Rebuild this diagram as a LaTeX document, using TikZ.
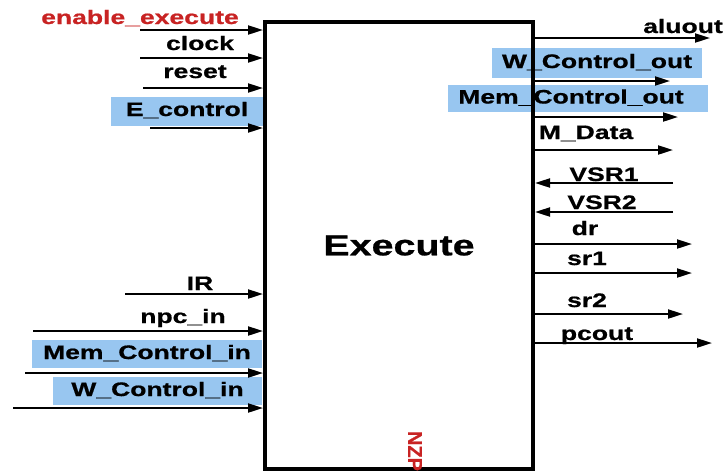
\documentclass[tikz,border=0pt]{standalone}
\usepackage{fontspec}
\usetikzlibrary{arrows.meta}
% Arial-metric sans, widened and slightly emboldened for the signal labels
\newfontfamily\labfont[FakeStretch=1.36,FakeBold=0.8]{Liberation Sans}
\newfontfamily\plainfont[FakeBold=0.8]{Liberation Sans}
\definecolor{sigblue}{RGB}{152,198,240}
\definecolor{sigred}{RGB}{200,35,35}
\begin{document}
\begin{tikzpicture}[x=1pt,y=-1pt,
  lbl/.style={font=\labfont\bfseries\fontsize{19.5}{22}\selectfont,
    inner sep=0pt, text height=14pt, text depth=4pt},
  bluelbl/.style={lbl, fill=sigblue, inner sep=0pt},
  bluebg/.style={fill=sigblue, inner sep=0pt},
  sig/.style={line width=2pt, -{Triangle[length=15pt,width=9pt]}},
  unit/.style={draw, line width=4pt, inner sep=0pt,
    minimum width=268pt, minimum height=447pt,
    font=\labfont\bfseries\fontsize{29}{32}\selectfont},
]
\useasboundingbox (0,0) rectangle (727,472);

% highlighted control buses (drawn first, the unit outline goes on top)
\node[bluelbl, minimum width=153pt, minimum height=29pt] (ectl) at (187,111) {E\_control};
\node[bluelbl, minimum width=230pt, minimum height=28pt] (memin) at (147,354) {Mem\_Control\_in};
\node[bluelbl, minimum width=209pt, minimum height=28pt] (win) at (157.5,391) {W\_Control\_in};
\node[bluelbl, minimum width=210pt, minimum height=30pt] (wout) at (597,63) {W\_Control\_out};
\node[bluebg, minimum width=260pt, minimum height=27pt] (memoutbg) at (578,98.5) {};
\node[lbl] (memout) at (571,98.5) {Mem\_Control\_out};

% the execute stage
\node[unit] (exec) at (399,245.5) {Execute};
\node[font=\plainfont\bfseries\fontsize{20}{22}\selectfont, text=sigred,
  rotate=-90, inner sep=0pt] (nzp) at (415,451) {NZP};

% input labels
\node[lbl, text=sigred] (en) at (140,19) {enable\_execute};
\node[lbl] (clk) at (200,45) {clock};
\node[lbl] (rst) at (195,73) {reset};
\node[lbl] (ir) at (200,285) {IR};
\node[lbl] (npc) at (183,318) {npc\_in};

% output labels
\node[lbl] (alu) at (683,28) {aluout};
\node[lbl] (mdata) at (586,134) {M\_Data};
\node[lbl] (vsra) at (604,176) {VSR1};
\node[lbl] (vsrb) at (602,204) {VSR2};
\node[lbl] (dr) at (585,230) {dr};
\node[lbl] (sra) at (587,260) {sr1};
\node[lbl] (srb) at (587,302) {sr2};
\node[lbl] (pc) at (597,335) {pcout};

% free ends of the input wires
\coordinate (enS) at (140,30);
\coordinate (clkS) at (140,58);
\coordinate (rstS) at (143,88);
\coordinate (ectlS) at (150,128);
\coordinate (irS) at (125,294);
\coordinate (npcS) at (33,331);
\coordinate (meminS) at (25,373);
\coordinate (winS) at (13,408);
\coordinate (vsraS) at (673,183);
\coordinate (vsrbS) at (673,212);

% free ends of the output wires
\coordinate (aluE) at (710,38);
\coordinate (woutE) at (670,81);
\coordinate (memoutE) at (678,117);
\coordinate (mdataE) at (673,150);
\coordinate (drE) at (692,244);
\coordinate (sraE) at (692,273);
\coordinate (srbE) at (683,314);
\coordinate (pcE) at (712,343);

% inputs
\foreach \s in {enS,clkS,rstS,ectlS,irS,npcS,meminS,winS}
  \draw[sig] (\s) -- (\s -| exec.west);
\foreach \s in {vsraS,vsrbS}
  \draw[sig] (\s) -- (\s -| exec.east);

% outputs
\foreach \e in {aluE,woutE,memoutE,mdataE,drE,sraE,srbE,pcE}
  \draw[sig] (\e -| exec.east) -- (\e);
\end{tikzpicture}
\end{document}
